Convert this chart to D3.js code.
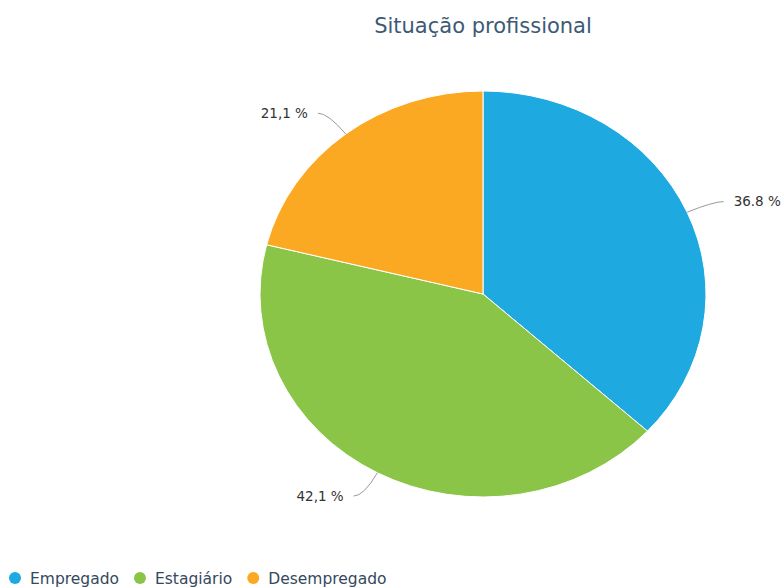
<!DOCTYPE html>
<html>
<head>
<meta charset="utf-8">
<script src="https://cdn.jsdelivr.net/npm/d3@7"></script>
<style>
  body { margin: 0; background: #fff; }
  text { font-family: "DejaVu Sans", sans-serif; }
</style>
</head>
<body>
<div id="chart"></div>
<script>
var categories = ["Empregado", "Estagiário", "Desempregado"];
var values = [36.8, 42.1, 21.1];
var labels = ["36.8 %", "42,1 %", "21,1 %"];
var colors = ["#1fa9e1", "#8bc548", "#fba922"];

var width = 782, height = 587;
var cx = 483, cy = 294, rx = 223, ry = 203;

var svg = d3.select("#chart").append("svg")
    .attr("width", width)
    .attr("height", height);

svg.append("text")
    .attr("x", cx)
    .attr("y", 33)
    .attr("text-anchor", "middle")
    .attr("fill", "#3d5a75")
    .style("font-size", "21px")
    .text("Situação profissional");

var pie = d3.pie().sort(null).value(function (d) { return d; });
var arcs = pie(values);
var arc = d3.arc().innerRadius(0).outerRadius(rx);

var g = svg.append("g")
    .attr("transform", "translate(" + cx + "," + cy + ") scale(1," + (ry / rx) + ")");

g.selectAll("path")
    .data(arcs)
    .enter().append("path")
    .attr("d", arc)
    .attr("fill", function (d, i) { return colors[i]; })
    .attr("stroke", "#fff")
    .attr("stroke-width", 1)
    .attr("vector-effect", "non-scaling-stroke");

// labels with connectors
function pt(a, f) {
    return [cx + rx * f * Math.sin(a), cy - ry * f * Math.cos(a)];
}

arcs.forEach(function (d, i) {
    var a = (d.startAngle + d.endAngle) / 2;
    var p0 = pt(a, 1.0);
    var p1 = pt(a, 1.13);
    var side = Math.sin(a) >= 0 ? 1 : -1;
    var p2 = [p1[0] + side * 10, p1[1]];
    svg.append("path")
        .attr("d", "M" + p0[0] + "," + p0[1] + " Q" + p1[0] + "," + p1[1] + " " + p2[0] + "," + p2[1])
        .attr("fill", "none")
        .attr("stroke", "#999")
        .attr("stroke-width", 1);
    svg.append("text")
        .attr("x", p2[0] + side * 10)
        .attr("y", p2[1])
        .attr("dy", "0.35em")
        .attr("text-anchor", side > 0 ? "start" : "end")
        .attr("fill", "#333")
        .style("font-size", "13.5px")
        .text(labels[i]);
});

// legend
var lx = 15;
categories.forEach(function (c, i) {
    svg.append("circle")
        .attr("cx", lx)
        .attr("cy", 578)
        .attr("r", 6)
        .attr("fill", colors[i]);
    var t = svg.append("text")
        .attr("x", lx + 15)
        .attr("y", 584)
        .attr("fill", "#34495e")
        .style("font-size", "15.5px")
        .text(c);
    lx = lx + 15 + t.node().getComputedTextLength() + 21;
});
</script>
</body>
</html>
